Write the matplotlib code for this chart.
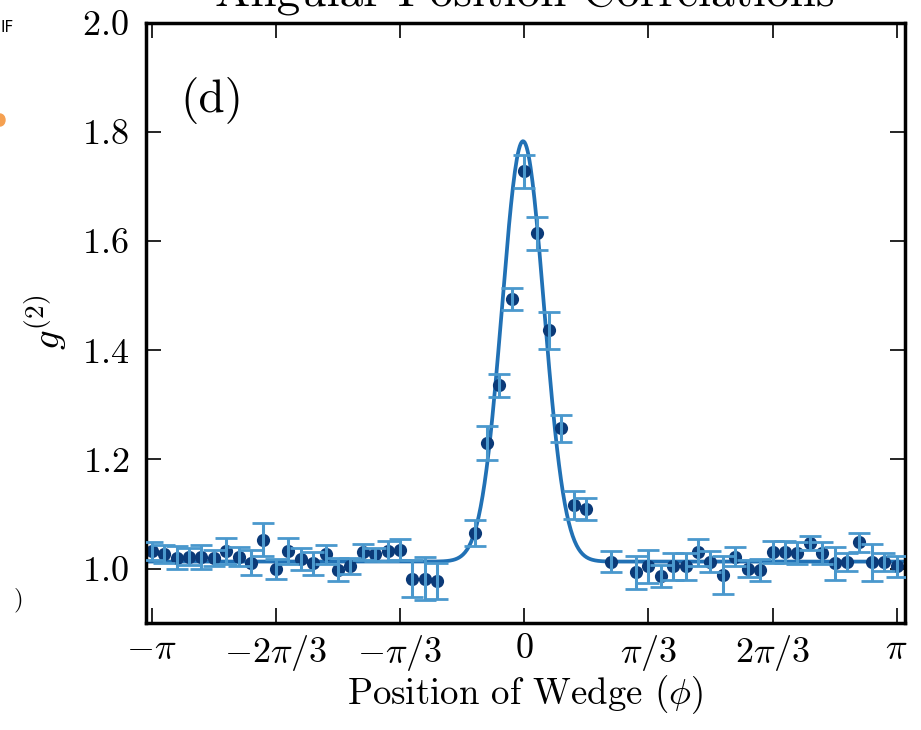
import numpy as np
import matplotlib
matplotlib.use('Agg')
import matplotlib.pyplot as plt
from matplotlib.patches import Ellipse

plt.rcParams['mathtext.fontset'] = 'cm'
plt.rcParams['font.family'] = 'cmr10'
plt.rcParams['axes.unicode_minus'] = False

# wedge index (step pi/30 starting at -pi), some positions have no data
idx_left = list(range(0, 24))
idx_peak = list(range(26, 36))
idx_right = [37] + list(range(39, 61))

g2_left = [1.032, 1.027, 1.020, 1.022, 1.022, 1.020, 1.033, 1.022, 1.011, 1.053,
           1.000, 1.032, 1.018, 1.010, 1.026, 0.998, 1.005, 1.030, 1.026, 1.032,
           1.035, 0.982, 0.982, 0.977]
err_left = [0.016, 0.017, 0.021, 0.016, 0.022, 0.015, 0.024, 0.017, 0.023, 0.030,
            0.018, 0.024, 0.020, 0.021, 0.018, 0.021, 0.015, 0.015, 0.012, 0.018,
            0.019, 0.033, 0.040, 0.033]
g2_peak = [1.065, 1.230, 1.336, 1.494, 1.728, 1.614, 1.437, 1.257, 1.117, 1.109]
err_peak = [0.024, 0.031, 0.021, 0.021, 0.030, 0.031, 0.034, 0.025, 0.026, 0.020]
g2_right = [1.013, 0.993, 1.004, 0.987, 1.004, 1.004, 1.030, 1.013, 0.989, 1.022,
            1.000, 0.997, 1.031, 1.030, 1.029, 1.047, 1.029, 1.010, 1.012, 1.048,
            1.012, 1.012, 1.004]
err_right = [0.020, 0.030, 0.030, 0.020, 0.024, 0.024, 0.025, 0.020, 0.035, 0.018,
             0.015, 0.020, 0.020, 0.020, 0.020, 0.013, 0.020, 0.030, 0.017, 0.018,
             0.034, 0.017, 0.020]

# gaussian fit parameters
fit_base = 1.013
fit_amp = 0.77
fit_mu = -0.01
fit_sigma = 0.177

xticks = [-np.pi, -2*np.pi/3, -np.pi/3, 0, np.pi/3, 2*np.pi/3, np.pi]
xtick_labels = [r'$-\pi$', r'$-2\pi/3$', r'$-\pi/3$', r'$0$', r'$\pi/3$', r'$2\pi/3$', r'$\pi$']
yticks = [1.0, 1.2, 1.4, 1.6, 1.8, 2.0]
ytick_labels = [r'$1.0$', r'$1.2$', r'$1.4$', r'$1.6$', r'$1.8$', r'$2.0$']

idx = np.array(idx_left + idx_peak + idx_right)
phi = -np.pi + idx * np.pi / 30
g2 = np.array(g2_left + g2_peak + g2_right)
err = np.array(err_left + err_peak + err_right)

fig = plt.figure(figsize=(9.21, 7.30), dpi=100)
ax = fig.add_axes([0.158, 0.1462, 0.8247, 0.8227])

xf = np.linspace(-3.3, 3.3, 800)
yf = fit_base + fit_amp * np.exp(-0.5 * ((xf - fit_mu) / fit_sigma) ** 2)
ax.plot(xf, yf, color='#2171b5', lw=2.7, zorder=1)
ax.plot(phi, g2, 'o', ms=9.5, color='#0b3a78', mec='none', zorder=2)
ax.errorbar(phi, g2, yerr=err, fmt='none', ecolor='#4a98cd', elinewidth=2.2,
            capsize=8, capthick=2.0, zorder=3)

ax.set_xlim(-3.194, 3.212)
ax.set_ylim(0.9, 2.0)
ax.set_xticks(xticks)
ax.set_xticklabels(xtick_labels)
ax.set_yticks(yticks)
ax.set_yticklabels(ytick_labels)
ax.tick_params(direction='in', top=True, right=True, length=11, width=1.2,
               labelsize=26)
ax.tick_params(axis='x', pad=7)
ax.tick_params(axis='y', pad=12)
for s in ax.spines.values():
    s.set_linewidth(2.5)

fig.text(0.5 * (0.158 + 0.9826), 1 - 7 / 730, 'Angular Position Correlations',
         ha='center', va='baseline', fontsize=34)
fig.text(180 / 921, 1 - 100 / 730, '(d)', fontsize=34, va='center', ha='left')
fig.text(0.5 * (0.158 + 0.9826), 1 - 695 / 730, r'Position of Wedge ($\phi$)',
         ha='center', va='center', fontsize=26.5)
fig.text(45 / 921, 1 - 322 / 730, r'$g^{(2)}$', rotation=90, ha='center',
         va='center', fontsize=28)

# bits of the neighbouring panel at the left edge
fig.text(0.0, 1 - 27 / 730, 'IF', fontsize=11, family='DejaVu Sans', va='center')
fig.text(14 / 921, 1 - 600 / 730, ')', fontsize=18, va='center')
fig.patches.append(Ellipse((0.0, 1 - 120 / 730), 10 / 921, 12 / 730,
                           transform=fig.transFigure, color='#f5a050'))

fig.savefig('out.png', dpi=100)
